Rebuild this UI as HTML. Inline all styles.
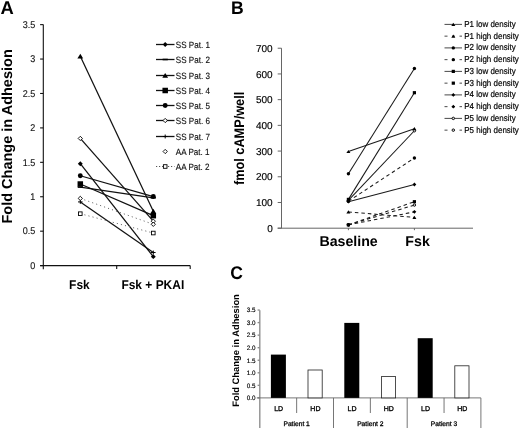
<!DOCTYPE html>
<html><head><meta charset="utf-8"><title>Figure</title>
<style>
html,body{margin:0;padding:0;background:#fff;}
body{width:520px;height:430px;overflow:hidden;font-family:"Liberation Sans",sans-serif;}
svg{display:block;text-rendering:geometricPrecision;filter:blur(0.3px);font-family:"Liberation Sans",sans-serif;}
</style></head><body>
<svg width="520" height="430" viewBox="0 0 520 430">
<rect width="520" height="430" fill="#fff"/>
<g stroke="#111" stroke-width="1.1" fill="none">
<path d="M43.3 24.6V269.2M40.099999999999994 265.6H190.2M116.7 265.6v3.4M190.2 265.6v3.4"/>
<path d="M40.099999999999994 265.60H43.3"/>
<path d="M40.099999999999994 231.18H43.3"/>
<path d="M40.099999999999994 196.75H43.3"/>
<path d="M40.099999999999994 162.33H43.3"/>
<path d="M40.099999999999994 127.90H43.3"/>
<path d="M40.099999999999994 93.48H43.3"/>
<path d="M40.099999999999994 59.05H43.3"/>
<path d="M40.099999999999994 24.63H43.3"/>
</g>
<text transform="translate(35.2 268.90) scale(0.92 1)" font-size="9.8" text-anchor="end" fill="#111" stroke="#111" stroke-width="0.12">0</text>
<text transform="translate(35.2 234.48) scale(0.92 1)" font-size="9.8" text-anchor="end" fill="#111" stroke="#111" stroke-width="0.12">0.5</text>
<text transform="translate(35.2 200.05) scale(0.92 1)" font-size="9.8" text-anchor="end" fill="#111" stroke="#111" stroke-width="0.12">1</text>
<text transform="translate(35.2 165.63) scale(0.92 1)" font-size="9.8" text-anchor="end" fill="#111" stroke="#111" stroke-width="0.12">1.5</text>
<text transform="translate(35.2 131.20) scale(0.92 1)" font-size="9.8" text-anchor="end" fill="#111" stroke="#111" stroke-width="0.12">2</text>
<text transform="translate(35.2 96.78) scale(0.92 1)" font-size="9.8" text-anchor="end" fill="#111" stroke="#111" stroke-width="0.12">2.5</text>
<text transform="translate(35.2 62.35) scale(0.92 1)" font-size="9.8" text-anchor="end" fill="#111" stroke="#111" stroke-width="0.12">3</text>
<text transform="translate(35.2 27.93) scale(0.92 1)" font-size="9.8" text-anchor="end" fill="#111" stroke="#111" stroke-width="0.12">3.5</text>
<path d="M80.3 163.70L153.3 256.65" stroke="#111" stroke-width="1.25" fill="none"/>
<path d="M80.3 187.11L153.3 197.78" stroke="#111" stroke-width="1.25" fill="none"/>
<path d="M80.3 56.30L153.3 211.21" stroke="#111" stroke-width="1.25" fill="none"/>
<path d="M80.3 184.01L153.3 215.68" stroke="#111" stroke-width="1.25" fill="none"/>
<path d="M80.3 175.75L153.3 196.54" stroke="#111" stroke-width="1.25" fill="none"/>
<path d="M80.3 138.43L153.3 221.19" stroke="#111" stroke-width="1.25" fill="none"/>
<path d="M80.3 201.91L153.3 252.52" stroke="#111" stroke-width="1.25" fill="none"/>
<path d="M80.3 198.40L153.3 224.29" stroke="#666" stroke-width="1" stroke-dasharray="1.1 3.1" fill="none"/>
<path d="M80.3 213.69L153.3 233.03" stroke="#666" stroke-width="1" stroke-dasharray="1.1 3.1" fill="none"/>
<path d="M77.85 163.70L80.30 161.25L82.75 163.70L80.30 166.15Z" fill="#000" stroke="none"/>
<path d="M150.85 256.65L153.30 254.20L155.75 256.65L153.30 259.10Z" fill="#000" stroke="none"/>
<path d="M77.70 187.11H82.90" stroke="#000" stroke-width="1.6" fill="none"/>
<path d="M150.70 197.78H155.90" stroke="#000" stroke-width="1.6" fill="none"/>
<path d="M77.40 58.47L80.30 53.83L83.20 58.47Z" fill="#000" stroke="none"/>
<path d="M150.40 213.38L153.30 208.74L156.20 213.38Z" fill="#000" stroke="none"/>
<rect x="77.55" y="181.26" width="5.50" height="5.50" fill="#000" stroke="none"/>
<rect x="150.55" y="212.93" width="5.50" height="5.50" fill="#000" stroke="none"/>
<circle cx="80.30" cy="175.75" r="2.45" fill="#000" stroke="none"/>
<circle cx="153.30" cy="196.54" r="2.45" fill="#000" stroke="none"/>
<path d="M78.15 138.43L80.30 136.28L82.45 138.43L80.30 140.58Z" fill="#fff" stroke="#000" stroke-width="0.9"/>
<path d="M151.15 221.19L153.30 219.04L155.45 221.19L153.30 223.34Z" fill="#fff" stroke="#000" stroke-width="0.9"/>
<path d="M78.00 201.91H82.60M80.30 199.96V203.87" stroke="#000" stroke-width="1" fill="none"/>
<path d="M151.00 252.52H155.60M153.30 250.56V254.47" stroke="#000" stroke-width="1" fill="none"/>
<path d="M78.15 198.40L80.30 196.25L82.45 198.40L80.30 200.55Z" fill="#fff" stroke="#000" stroke-width="0.9"/>
<path d="M151.15 224.29L153.30 222.14L155.45 224.29L153.30 226.44Z" fill="#fff" stroke="#000" stroke-width="0.9"/>
<rect x="78.50" y="211.89" width="3.60" height="3.60" fill="#fff" stroke="#000" stroke-width="0.9"/>
<rect x="151.50" y="231.23" width="3.60" height="3.60" fill="#fff" stroke="#000" stroke-width="0.9"/>
<path d="M156 44.5H174.5" stroke="#111" stroke-width="1.3" fill="none"/>
<path d="M162.75 44.50L165.20 42.05L167.65 44.50L165.20 46.95Z" fill="#000" stroke="none"/>
<text transform="translate(175.8 47.90) scale(0.89 1)" font-size="9.1" fill="#111" stroke="#111" stroke-width="0.15">SS Pat. 1</text>
<path d="M156 59.5H174.5" stroke="#111" stroke-width="1.3" fill="none"/>
<path d="M162.60 59.50H167.80" stroke="#000" stroke-width="1.6" fill="none"/>
<text transform="translate(175.8 62.90) scale(0.89 1)" font-size="9.1" fill="#111" stroke="#111" stroke-width="0.15">SS Pat. 2</text>
<path d="M156 75.5H174.5" stroke="#111" stroke-width="1.3" fill="none"/>
<path d="M162.30 77.67L165.20 73.03L168.10 77.67Z" fill="#000" stroke="none"/>
<text transform="translate(175.8 78.90) scale(0.89 1)" font-size="9.1" fill="#111" stroke="#111" stroke-width="0.15">SS Pat. 3</text>
<path d="M156 90.5H174.5" stroke="#111" stroke-width="1.3" fill="none"/>
<rect x="162.45" y="87.75" width="5.50" height="5.50" fill="#000" stroke="none"/>
<text transform="translate(175.8 93.90) scale(0.89 1)" font-size="9.1" fill="#111" stroke="#111" stroke-width="0.15">SS Pat. 4</text>
<path d="M156 105.5H174.5" stroke="#111" stroke-width="1.3" fill="none"/>
<circle cx="165.20" cy="105.50" r="2.45" fill="#000" stroke="none"/>
<text transform="translate(175.8 108.90) scale(0.89 1)" font-size="9.1" fill="#111" stroke="#111" stroke-width="0.15">SS Pat. 5</text>
<path d="M156 120.5H174.5" stroke="#111" stroke-width="1.3" fill="none"/>
<path d="M163.05 120.50L165.20 118.35L167.35 120.50L165.20 122.65Z" fill="#fff" stroke="#000" stroke-width="0.9"/>
<text transform="translate(175.8 123.90) scale(0.89 1)" font-size="9.1" fill="#111" stroke="#111" stroke-width="0.15">SS Pat. 6</text>
<path d="M156 136.5H174.5" stroke="#111" stroke-width="1.3" fill="none"/>
<path d="M162.90 136.50H167.50M165.20 134.54V138.46" stroke="#000" stroke-width="1" fill="none"/>
<text transform="translate(175.8 139.90) scale(0.89 1)" font-size="9.1" fill="#111" stroke="#111" stroke-width="0.15">SS Pat. 7</text>
<path d="M163.05 151.50L165.20 149.35L167.35 151.50L165.20 153.65Z" fill="#fff" stroke="#000" stroke-width="0.9"/>
<text transform="translate(175.8 154.90) scale(0.89 1)" font-size="9.1" fill="#111" stroke="#111" stroke-width="0.15">AA Pat. 1</text>
<path d="M156 166.5H174.5" stroke="#555" stroke-width="1" stroke-dasharray="1.2 1.8" fill="none"/>
<rect x="163.40" y="164.70" width="3.60" height="3.60" fill="#fff" stroke="#000" stroke-width="0.9"/>
<text transform="translate(175.8 169.90) scale(0.89 1)" font-size="9.1" fill="#111" stroke="#111" stroke-width="0.15">AA Pat. 2</text>
<text transform="translate(79.4 289) scale(0.935 1)" font-size="12.8" font-weight="bold" text-anchor="middle">Fsk</text>
<text transform="translate(152.8 289) scale(0.935 1)" font-size="12.8" font-weight="bold" text-anchor="middle">Fsk + PKAI</text>
<text transform="translate(12.1 136.4) rotate(-90)" font-size="14.5" font-weight="bold" text-anchor="middle">Fold Change in Adhesion</text>
<text x="0.4" y="14.2" font-size="18.4" font-weight="bold">A</text>
<text transform="translate(230.9 13.7) scale(0.96 1)" font-size="18.3" font-weight="bold">B</text>
<text transform="translate(230.2 279.4) scale(0.96 1)" font-size="18.3" font-weight="bold">C</text>
<g stroke="#666" stroke-width="1" fill="none">
<path d="M281.5 48.2V228.2M277.7 228.2H473"/>
<path d="M277.7 228.20H281.5"/>
<path d="M277.7 202.49H281.5"/>
<path d="M277.7 176.78H281.5"/>
<path d="M277.7 151.07H281.5"/>
<path d="M277.7 125.36H281.5"/>
<path d="M277.7 99.65H281.5"/>
<path d="M277.7 73.94H281.5"/>
<path d="M277.7 48.23H281.5"/>
<path d="M348.4 228.2v2M414.4 228.2v2"/>
</g>
<text x="272.7" y="231.80" font-size="10" text-anchor="end" fill="#000" stroke="#000" stroke-width="0.15">0</text>
<text x="272.7" y="206.09" font-size="10" text-anchor="end" fill="#000" stroke="#000" stroke-width="0.15">100</text>
<text x="272.7" y="180.38" font-size="10" text-anchor="end" fill="#000" stroke="#000" stroke-width="0.15">200</text>
<text x="272.7" y="154.67" font-size="10" text-anchor="end" fill="#000" stroke="#000" stroke-width="0.15">300</text>
<text x="272.7" y="128.96" font-size="10" text-anchor="end" fill="#000" stroke="#000" stroke-width="0.15">400</text>
<text x="272.7" y="103.25" font-size="10" text-anchor="end" fill="#000" stroke="#000" stroke-width="0.15">500</text>
<text x="272.7" y="77.54" font-size="10" text-anchor="end" fill="#000" stroke="#000" stroke-width="0.15">600</text>
<text x="272.7" y="51.83" font-size="10" text-anchor="end" fill="#000" stroke="#000" stroke-width="0.15">700</text>
<path d="M348.4 151.58L414.4 128.70" stroke="#1a1a1a" stroke-width="1.05" fill="none"/>
<path d="M348.4 212.00L414.4 217.40" stroke="#1a1a1a" stroke-width="1.05" stroke-dasharray="3.5 3" fill="none"/>
<path d="M348.4 173.69L414.4 68.54" stroke="#1a1a1a" stroke-width="1.05" fill="none"/>
<path d="M348.4 201.20L414.4 158.01" stroke="#1a1a1a" stroke-width="1.05" stroke-dasharray="3.5 3" fill="none"/>
<path d="M348.4 199.40L414.4 92.71" stroke="#1a1a1a" stroke-width="1.05" fill="none"/>
<path d="M348.4 224.86L414.4 201.72" stroke="#1a1a1a" stroke-width="1.05" stroke-dasharray="3.5 3" fill="none"/>
<path d="M348.4 201.72L414.4 184.49" stroke="#1a1a1a" stroke-width="1.05" fill="none"/>
<path d="M348.4 224.86L414.4 211.87" stroke="#1a1a1a" stroke-width="1.05" stroke-dasharray="3.5 3" fill="none"/>
<path d="M348.4 200.43L414.4 130.76" stroke="#1a1a1a" stroke-width="1.05" fill="none"/>
<path d="M348.4 224.86L414.4 205.06" stroke="#1a1a1a" stroke-width="1.05" stroke-dasharray="3.5 3" fill="none"/>
<circle cx="348.40" cy="200.43" r="1.25" fill="#ddd" stroke="#000" stroke-width="0.9"/>
<circle cx="414.40" cy="130.76" r="1.25" fill="#ddd" stroke="#000" stroke-width="0.9"/>
<circle cx="348.40" cy="224.86" r="1.25" fill="#ddd" stroke="#000" stroke-width="0.9"/>
<circle cx="414.40" cy="205.06" r="1.25" fill="#ddd" stroke="#000" stroke-width="0.9"/>
<path d="M346.40 153.08L348.40 149.88L350.40 153.08Z" fill="#000" stroke="none"/>
<path d="M412.40 130.20L414.40 127.00L416.40 130.20Z" fill="#000" stroke="none"/>
<path d="M346.40 213.50L348.40 210.30L350.40 213.50Z" fill="#000" stroke="none"/>
<path d="M412.40 218.90L414.40 215.70L416.40 218.90Z" fill="#000" stroke="none"/>
<circle cx="348.40" cy="173.69" r="1.7" fill="#000" stroke="none"/>
<circle cx="414.40" cy="68.54" r="1.7" fill="#000" stroke="none"/>
<circle cx="348.40" cy="201.20" r="1.7" fill="#000" stroke="none"/>
<circle cx="414.40" cy="158.01" r="1.7" fill="#000" stroke="none"/>
<rect x="346.80" y="197.80" width="3.20" height="3.20" fill="#000" stroke="none"/>
<rect x="412.80" y="91.11" width="3.20" height="3.20" fill="#000" stroke="none"/>
<rect x="346.80" y="223.26" width="3.20" height="3.20" fill="#000" stroke="none"/>
<rect x="412.80" y="200.12" width="3.20" height="3.20" fill="#000" stroke="none"/>
<path d="M346.50 201.72L348.40 199.82L350.30 201.72L348.40 203.62Z" fill="#000" stroke="none"/>
<path d="M412.50 184.49L414.40 182.59L416.30 184.49L414.40 186.39Z" fill="#000" stroke="none"/>
<path d="M346.50 224.86L348.40 222.96L350.30 224.86L348.40 226.76Z" fill="#000" stroke="none"/>
<path d="M412.50 211.87L414.40 209.97L416.30 211.87L414.40 213.77Z" fill="#000" stroke="none"/>
<path d="M444.5 24.40H462" stroke="#333" stroke-width="0.9" fill="none"/>
<path d="M451.30 25.90L453.30 22.70L455.30 25.90Z" fill="#000" stroke="none"/>
<text transform="translate(464.2 26.90) scale(0.92 1)" font-size="8.7" fill="#000" stroke="#000" stroke-width="0.18">P1 low density</text>
<path d="M444.5 36.15H462" stroke="#333" stroke-width="0.9" stroke-dasharray="3 4.5" fill="none"/>
<path d="M451.30 37.65L453.30 34.45L455.30 37.65Z" fill="#000" stroke="none"/>
<text transform="translate(464.2 38.65) scale(0.92 1)" font-size="8.7" fill="#000" stroke="#000" stroke-width="0.18">P1 high density</text>
<path d="M444.5 47.90H462" stroke="#333" stroke-width="0.9" fill="none"/>
<circle cx="453.30" cy="47.90" r="1.7" fill="#000" stroke="none"/>
<text transform="translate(464.2 50.40) scale(0.92 1)" font-size="8.7" fill="#000" stroke="#000" stroke-width="0.18">P2 low density</text>
<path d="M444.5 59.65H462" stroke="#333" stroke-width="0.9" stroke-dasharray="3 4.5" fill="none"/>
<circle cx="453.30" cy="59.65" r="1.7" fill="#000" stroke="none"/>
<text transform="translate(464.2 62.15) scale(0.92 1)" font-size="8.7" fill="#000" stroke="#000" stroke-width="0.18">P2 high density</text>
<path d="M444.5 71.40H462" stroke="#333" stroke-width="0.9" fill="none"/>
<rect x="451.70" y="69.80" width="3.20" height="3.20" fill="#000" stroke="none"/>
<text transform="translate(464.2 73.90) scale(0.92 1)" font-size="8.7" fill="#000" stroke="#000" stroke-width="0.18">P3 low density</text>
<path d="M444.5 83.15H462" stroke="#333" stroke-width="0.9" stroke-dasharray="3 4.5" fill="none"/>
<rect x="451.70" y="81.55" width="3.20" height="3.20" fill="#000" stroke="none"/>
<text transform="translate(464.2 85.65) scale(0.92 1)" font-size="8.7" fill="#000" stroke="#000" stroke-width="0.18">P3 high density</text>
<path d="M444.5 94.90H462" stroke="#333" stroke-width="0.9" fill="none"/>
<path d="M451.40 94.90L453.30 93.00L455.20 94.90L453.30 96.80Z" fill="#000" stroke="none"/>
<text transform="translate(464.2 97.40) scale(0.92 1)" font-size="8.7" fill="#000" stroke="#000" stroke-width="0.18">P4 low density</text>
<path d="M444.5 106.65H462" stroke="#333" stroke-width="0.9" stroke-dasharray="3 4.5" fill="none"/>
<path d="M451.40 106.65L453.30 104.75L455.20 106.65L453.30 108.55Z" fill="#000" stroke="none"/>
<text transform="translate(464.2 109.15) scale(0.92 1)" font-size="8.7" fill="#000" stroke="#000" stroke-width="0.18">P4 high density</text>
<path d="M444.5 118.40H462" stroke="#333" stroke-width="0.9" fill="none"/>
<circle cx="453.30" cy="118.40" r="1.25" fill="#ddd" stroke="#000" stroke-width="0.9"/>
<text transform="translate(464.2 120.90) scale(0.92 1)" font-size="8.7" fill="#000" stroke="#000" stroke-width="0.18">P5 low density</text>
<path d="M444.5 130.15H462" stroke="#333" stroke-width="0.9" stroke-dasharray="3 4.5" fill="none"/>
<circle cx="453.30" cy="130.15" r="1.25" fill="#ddd" stroke="#000" stroke-width="0.9"/>
<text transform="translate(464.2 132.65) scale(0.92 1)" font-size="8.7" fill="#000" stroke="#000" stroke-width="0.18">P5 high density</text>
<text x="348.6" y="245.6" font-size="14.2" font-weight="bold" text-anchor="middle">Baseline</text>
<text x="417.6" y="245.6" font-size="14.2" font-weight="bold" text-anchor="middle">Fsk</text>
<text transform="translate(243.5 138.4) rotate(-90) scale(0.915 1)" font-size="13.9" font-weight="bold" text-anchor="middle">fmol cAMP/well</text>
<g stroke="#8c8c8c" stroke-width="1.35" fill="none">
<path d="M259.8 310.2V428"/>
<path d="M257.6 397.90H259.8"/>
<path d="M257.6 385.35H259.8"/>
<path d="M257.6 372.80H259.8"/>
<path d="M257.6 360.25H259.8"/>
<path d="M257.6 347.70H259.8"/>
<path d="M257.6 335.15H259.8"/>
<path d="M257.6 322.60H259.8"/>
<path d="M257.6 310.05H259.8"/>
</g>
<g stroke="#666" stroke-width="0.9" fill="none">
<path d="M256.8 397.9H480.90000000000003"/>
<path d="M296.65 397.9V413"/>
<path d="M333.50 397.9V428"/>
<path d="M370.35 397.9V413"/>
<path d="M407.20 397.9V428"/>
<path d="M444.05 397.9V413"/>
<path d="M480.90 397.9V428"/>
</g>
<text x="255.5" y="400.20" font-size="6.3" text-anchor="end" fill="#000" stroke="#000" stroke-width="0.15">0.0</text>
<text x="255.5" y="387.65" font-size="6.3" text-anchor="end" fill="#000" stroke="#000" stroke-width="0.15">0.5</text>
<text x="255.5" y="375.10" font-size="6.3" text-anchor="end" fill="#000" stroke="#000" stroke-width="0.15">1.0</text>
<text x="255.5" y="362.55" font-size="6.3" text-anchor="end" fill="#000" stroke="#000" stroke-width="0.15">1.5</text>
<text x="255.5" y="350.00" font-size="6.3" text-anchor="end" fill="#000" stroke="#000" stroke-width="0.15">2.0</text>
<text x="255.5" y="337.45" font-size="6.3" text-anchor="end" fill="#000" stroke="#000" stroke-width="0.15">2.5</text>
<text x="255.5" y="324.90" font-size="6.3" text-anchor="end" fill="#000" stroke="#000" stroke-width="0.15">3.0</text>
<text x="255.5" y="312.35" font-size="6.3" text-anchor="end" fill="#000" stroke="#000" stroke-width="0.15">3.5</text>
<rect x="270.90" y="354.60" width="15" height="43.30" fill="#000"/>
<text x="278.70" y="411.2" font-size="7" text-anchor="middle" fill="#000" stroke="#000" stroke-width="0.3">LD</text>
<rect x="308.00" y="370.00" width="14.2" height="27.90" fill="#fff" stroke="#222" stroke-width="0.8"/>
<text x="315.40" y="411.2" font-size="7" text-anchor="middle" fill="#000" stroke="#000" stroke-width="0.3">HD</text>
<rect x="344.30" y="322.90" width="15" height="75.00" fill="#000"/>
<text x="352.10" y="411.2" font-size="7" text-anchor="middle" fill="#000" stroke="#000" stroke-width="0.3">LD</text>
<rect x="381.40" y="376.60" width="14.2" height="21.30" fill="#fff" stroke="#222" stroke-width="0.8"/>
<text x="388.80" y="411.2" font-size="7" text-anchor="middle" fill="#000" stroke="#000" stroke-width="0.3">HD</text>
<rect x="417.70" y="338.20" width="15" height="59.70" fill="#000"/>
<text x="425.50" y="411.2" font-size="7" text-anchor="middle" fill="#000" stroke="#000" stroke-width="0.3">LD</text>
<rect x="454.80" y="365.80" width="14.2" height="32.10" fill="#fff" stroke="#222" stroke-width="0.8"/>
<text x="462.20" y="411.2" font-size="7" text-anchor="middle" fill="#000" stroke="#000" stroke-width="0.3">HD</text>
<text x="296.65" y="425.8" font-size="6.7" text-anchor="middle" fill="#000" stroke="#000" stroke-width="0.28">Patient 1</text>
<text x="370.35" y="425.8" font-size="6.7" text-anchor="middle" fill="#000" stroke="#000" stroke-width="0.28">Patient 2</text>
<text x="444.05" y="425.8" font-size="6.7" text-anchor="middle" fill="#000" stroke="#000" stroke-width="0.28">Patient 3</text>
<text transform="translate(239.4 350.5) rotate(-90)" font-size="9.4" font-weight="bold" text-anchor="middle">Fold Change in Adhesion</text>
</svg>
</body></html>
